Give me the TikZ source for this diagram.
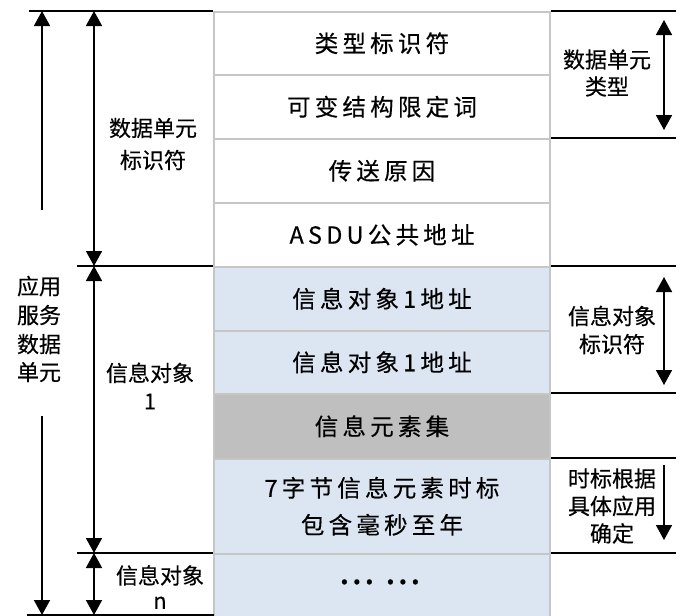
\documentclass[tikz,border=0pt]{standalone}
\usepackage{fontspec}
\setmainfont{Noto Sans CJK SC}[FakeBold=0.4]
\usetikzlibrary{arrows.meta}
\definecolor{lblue}{HTML}{DCE6F2}
\definecolor{gfill}{HTML}{BFBFBF}
\definecolor{bord}{HTML}{C6C6C6}
\begin{document}
\begin{tikzpicture}[x=1pt,y=-1pt,
 rowbox/.style={draw=bord, line width=1.5pt, minimum width=336pt, inner sep=0pt, anchor=north, align=center,
   font=\fontsize{23.5}{37}\selectfont\addfontfeature{LetterSpace=18}},
 side/.style={align=center, inner sep=0pt, font=\fontsize{22}{28}\selectfont},
 rule/.style={line width=1.6pt},
 arr/.style={line width=1.6pt, -{Triangle[width=16pt,length=15pt]}},
 darr/.style={line width=1.6pt, {Triangle[width=16pt,length=15pt]}-{Triangle[width=16pt,length=15pt]}}]
\useasboundingbox (0,0) rectangle (681,616);
% main column
\node[rowbox, fill=white, minimum height=63pt] (r1) at (382,11) {类型标识符};
\node[rowbox, fill=white, minimum height=64pt] (r2) at (382,74) {可变结构限定词};
\node[rowbox, fill=white, minimum height=64pt] (r3) at (382,138) {传送原因};
\node[rowbox, fill=white, minimum height=64pt] (r4) at (382,202) {ASDU公共地址};
\node[rowbox, fill=lblue, minimum height=64pt] (r5) at (382,266) {信息对象1地址};
\node[rowbox, fill=lblue, minimum height=63pt] (r6) at (382,330) {信息对象1地址};
\node[rowbox, fill=gfill, minimum height=65pt] (r7) at (382,393) {信息元素集};
\node[rowbox, fill=lblue, minimum height=95pt] (r8) at (382,458) {7字节信息元素时标\\包含毫秒至年};
\node[rowbox, fill=lblue, minimum height=80pt, text depth=24pt] (r9) at (382,553) {\textbf{... ...}};
% left rules
\coordinate (lt) at (29,11);
\coordinate (lm) at (77,266);
\coordinate (ln) at (77,553);
\coordinate (lb) at (27,615);
\coordinate (rb) at (214,615);
\draw[rule] (lt) -- (r1.north west);
\draw[rule] (lm) -- (r5.north west);
\draw[rule] (ln) -- (r9.north west);
\draw[rule] (lb) -- (rb);
% right rules
\foreach \n/\y in {a/11,b/138,c/266,d/393,e/458,f/553}{
  \coordinate (re\n) at (676,\y);
}
\draw[rule] (r1.north east) -- (rea);
\draw[rule] (r3.north east) -- (reb);
\draw[rule] (r5.north east) -- (rec);
\draw[rule] (r7.north east) -- (red);
\draw[rule] (r8.north east) -- (ree);
\draw[rule] (r9.north east) -- (ref);
% left labels
\node[side] (asdu) at (39,329) {应用\\[1pt]服务\\[1pt]数据\\单元};
\node[side, font=\fontsize{22}{32}\selectfont] (dui) at (153,144) {数据单元\\标识符};
\node[side] (io1) at (150,386) {信息对象\\1};
\node[side, font=\fontsize{22}{25}\selectfont] (ion) at (160,587) {信息对象\\n};
% left arrows
\coordinate (a1s) at (42,210);
\coordinate (a1e) at (42,11);
\coordinate (a2s) at (42,416);
\coordinate (a2e) at (42,615);
\draw[arr] (a1s) -- (a1e);
\draw[arr] (a2s) -- (a2e);
\coordinate (b0) at (94,11);
\coordinate (b1) at (94,266);
\coordinate (b2) at (94,553);
\coordinate (b3) at (94,615);
\draw[darr] (b0) -- (b1);
\draw[darr] (b1) -- (b2);
\draw[darr] (b2) -- (b3);
% right labels
\node[side, font=\fontsize{22}{27}\selectfont] (dut) at (607,73) {数据单元\\类型};
\node[side] (ioi) at (612,330) {信息对象\\标识符};
\node[side, font=\fontsize{22}{27.5}\selectfont] (tsl) at (612,506) {时标根据\\具体应用\\确定};
% right arrows
\coordinate (c0) at (664,20);
\coordinate (c1) at (664,130);
\coordinate (c2) at (664,277);
\coordinate (c3) at (664,385);
\coordinate (c4) at (664,465);
\coordinate (c5) at (664,540);
\draw[darr] (c0) -- (c1);
\draw[darr] (c2) -- (c3);
\draw[arr] (c4) -- (c5);
\end{tikzpicture}
\end{document}
